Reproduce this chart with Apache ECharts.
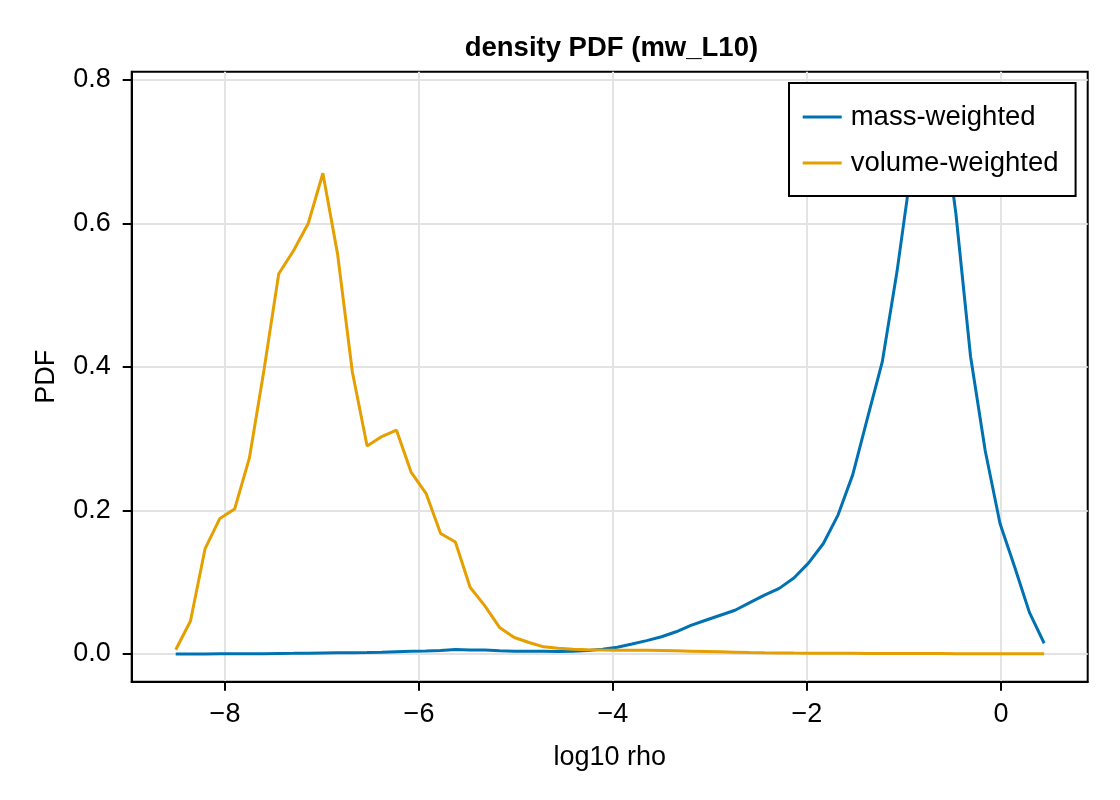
<!DOCTYPE html>
<html>
<head>
<meta charset="utf-8">
<script src="https://cdn.jsdelivr.net/npm/echarts@6/dist/echarts.min.js"></script>
<style>
  html, body { margin: 0; padding: 0; background: #fff; }
  #chart { width: 1120px; height: 800px; }
</style>
</head>
<body>
<div id="chart"></div>
<script>
// log10 rho bin positions
const logRho = [
  -8.508, -8.356, -8.205, -8.053, -7.901, -7.749, -7.598, -7.446, -7.294, -7.142,
  -6.991, -6.839, -6.687, -6.535, -6.384, -6.232, -6.080, -5.928, -5.777, -5.625,
  -5.473, -5.321, -5.170, -5.018, -4.866, -4.714, -4.563, -4.411, -4.259, -4.107,
  -3.956, -3.804, -3.652, -3.500, -3.349, -3.197, -3.045, -2.893, -2.742, -2.590,
  -2.438, -2.286, -2.135, -1.983, -1.831, -1.679, -1.528, -1.376, -1.224, -1.072,
  -0.921, -0.769, -0.617, -0.465, -0.314, -0.162, -0.010, 0.142, 0.293, 0.445
];
const massWeighted = [
  0.0000, 0.0000, 0.0001, 0.0002, 0.0003, 0.0004, 0.0005, 0.0007, 0.0009, 0.0012,
  0.0015, 0.0017, 0.0018, 0.0021, 0.0026, 0.0033, 0.0038, 0.0042, 0.0048, 0.0062,
  0.0055, 0.0056, 0.0045, 0.0040, 0.0038, 0.0037, 0.0036, 0.0040, 0.0048, 0.0068,
  0.0095, 0.0140, 0.0186, 0.0240, 0.0310, 0.0400, 0.0470, 0.0540, 0.0610, 0.0715,
  0.0820, 0.0915, 0.1060, 0.1270, 0.1540, 0.1940, 0.2500, 0.3290, 0.4070, 0.5330,
  0.6800, 0.7600, 0.7700, 0.6140, 0.4150, 0.2830, 0.1820, 0.1210, 0.0580, 0.0150
];
const volumeWeighted = [
  0.006, 0.046, 0.147, 0.189, 0.202, 0.273, 0.396, 0.530, 0.562, 0.600,
  0.670, 0.557, 0.393, 0.290, 0.303, 0.312, 0.253, 0.224, 0.168, 0.156,
  0.093, 0.067, 0.037, 0.023, 0.016, 0.010, 0.008, 0.0065, 0.0058, 0.0055,
  0.0054, 0.0053, 0.0051, 0.0048, 0.0045, 0.0040, 0.0035, 0.0030, 0.0025, 0.0020,
  0.0017, 0.0015, 0.0013, 0.0012, 0.0011, 0.0010, 0.0009, 0.0008, 0.0008, 0.0007,
  0.0007, 0.0006, 0.0006, 0.0005, 0.0005, 0.0004, 0.0004, 0.0003, 0.0003, 0.0002
];
const xTicks = [-8, -6, -4, -2, 0];
const yTicks = [0, 0.2, 0.4, 0.6, 0.8];
const seriesNames = ['mass-weighted', 'volume-weighted'];
const titleText = 'density PDF (mw_L10)';

const FONT = '"Liberation Sans", Arial, Helvetica, sans-serif';
const pairs = (ys) => logRho.map((x, i) => [x, ys[i]]);

const chart = echarts.init(document.getElementById('chart'), null, { renderer: 'canvas' });
chart.setOption({
  animation: false,
  backgroundColor: '#ffffff',
  graphic: [{
    type: 'text',
    left: 609.7 - 145,
    top: 34,
    style: {
      text: titleText,
      font: 'bold 27.5px ' + FONT,
      fill: '#000'
    }
  }],
  grid: {
    left: 131.7, right: 32.3, top: 71.7, bottom: 118.3,
    show: true, borderColor: '#000', borderWidth: 2, backgroundColor: 'transparent',
    containLabel: false
  },
  legend: {
    orient: 'vertical',
    left: 789, top: 83,
    padding: [20, 17, 19, 13.7],
    itemWidth: 39, itemHeight: 27, itemGap: 18,
    icon: 'path://M0,0 H39 V3 H0 Z',
    symbolKeepAspect: true,
    backgroundColor: '#fff', borderColor: '#000', borderWidth: 2,
    textStyle: { fontSize: 27.5, fontFamily: FONT, color: '#000', lineHeight: 27, padding: [0, 0, 0, 4] },
    data: seriesNames
  },
  xAxis: {
    type: 'value',
    min: -8.962, max: 0.894,
    name: 'log10 rho', nameLocation: 'middle', nameGap: 62,
    nameTextStyle: { fontSize: 27, fontFamily: FONT, color: '#000' },
    axisLine: { show: true, onZero: false, lineStyle: { color: '#000', width: 2 } },
    axisTick: { show: true, length: 9, inside: false, customValues: xTicks, lineStyle: { color: '#000', width: 2 } },
    axisLabel: {
      customValues: xTicks, margin: 19, fontSize: 27, fontFamily: FONT, color: '#000',
      formatter: (v) => String(v).replace('-', '\u2212')
    },
    splitLine: { show: true, lineStyle: { color: '#e3e3e3', width: 2 } }
  },
  yAxis: {
    type: 'value',
    min: -0.0386, max: 0.8116,
    name: 'PDF', nameLocation: 'middle', nameGap: 72, nameRotate: 90,
    nameTextStyle: { fontSize: 27, fontFamily: FONT, color: '#000' },
    axisLine: { show: true, onZero: false, lineStyle: { color: '#000', width: 2 } },
    axisTick: { show: true, length: 9, inside: false, customValues: yTicks, lineStyle: { color: '#000', width: 2 } },
    axisLabel: {
      customValues: yTicks, margin: 21, fontSize: 27, fontFamily: FONT, color: '#000',
      formatter: (v) => Number(v).toFixed(1)
    },
    splitLine: { show: true, lineStyle: { color: '#e3e3e3', width: 2 } }
  },
  series: [
    {
      name: seriesNames[0], type: 'line', data: pairs(massWeighted),
      symbol: 'none', showSymbol: false, smooth: false, clip: true,
      lineStyle: { color: '#0072B2', width: 3 }, itemStyle: { color: '#0072B2' }, z: 2
    },
    {
      name: seriesNames[1], type: 'line', data: pairs(volumeWeighted),
      symbol: 'none', showSymbol: false, smooth: false, clip: true,
      lineStyle: { color: '#E69F00', width: 3 }, itemStyle: { color: '#E69F00' }, z: 3
    }
  ]
});
</script>
</body>
</html>
